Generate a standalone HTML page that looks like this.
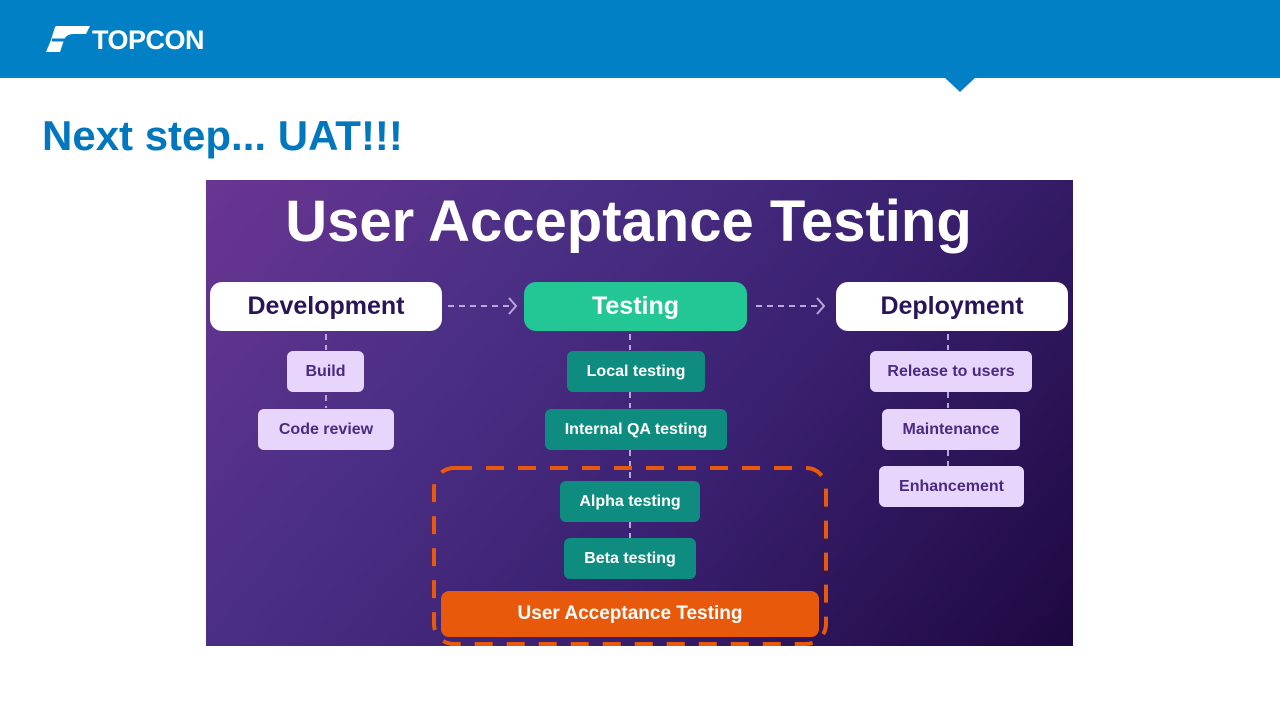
<!DOCTYPE html>
<html><head><meta charset="utf-8"><style>
body{margin:0;width:1280px;height:720px;background:#fff;position:relative;overflow:hidden;font-family:"Liberation Sans",sans-serif}
.hdr{position:absolute;left:0;top:0;width:1280px;height:78px;background:#0280C6}
.notch{position:absolute;left:945px;top:78px;width:0;height:0;border-left:15px solid transparent;border-right:15px solid transparent;border-top:14px solid #0280C6}
.logo{position:absolute;left:92px;top:25px;color:#fff;font-weight:bold;font-size:27px;letter-spacing:-0.5px}
h1{position:absolute;left:42px;top:112px;margin:0;color:#0277BD;font-size:42px;font-weight:bold}
.img{position:absolute;left:206px;top:180px;width:867px;height:466px;background:linear-gradient(130deg,#6a3592 0%,#4b2f85 30%,#3a2070 60%,#1e0840 100%);overflow:hidden}
.b{position:absolute;display:flex;align-items:center;justify-content:center;box-sizing:border-box;font-weight:bold;white-space:nowrap}
.big{height:49px;top:102px;border-radius:12px;font-size:25px;color:#2a1458}
.lp{background:#e8d5fc;color:#4a2a80;font-size:16px;border-radius:6px;height:41px}
.tl{background:#0e8c7f;color:#fff;font-size:16px;border-radius:6px;height:41px}
</style></head><body>
<div class="hdr"></div><div class="notch"></div>
<svg style="position:absolute;left:46px;top:26px" width="44" height="26"><path d="M10 0h34l-4 8H28q-8 0-10 6l-4 12H0l5-12q4-14 5-14z" fill="#fff"/><path d="M6 14h14" stroke="#0280C6" stroke-width="3"/><path d="M22 12h18" stroke="#0280C6" stroke-width="3"/></svg>
<div class="logo">TOPCON</div>
<h1>Next step... UAT!!!</h1>
<div class="img">
<div style="position:absolute;left:-11px;width:867px;top:8px;text-align:center;color:#fff;font-weight:bold;font-size:58px">User Acceptance Testing</div>
<svg style="position:absolute;left:0;top:0" width="867" height="466">
<g stroke="#b9a8d8" stroke-width="2" stroke-dasharray="6 5" fill="none">
<path d="M242 126H306M550 126H614"/>
<path d="M120 154V170M120 193V228M424 154V170M424 212V228M424 270V300M424 342V358M742 154V170M742 212V228M742 270V286"/>
</g>
<g stroke="#b9a8d8" stroke-width="2" fill="none"><path d="M303 118l7 8-7 8M611 118l7 8-7 8"/></g>
<rect x="228" y="288" width="392" height="176" rx="20" fill="none" stroke="#e8590c" stroke-width="4" stroke-dasharray="18 14"/>
</svg>
<div class="b big" style="left:4px;width:232px;background:#fff">Development</div>
<div class="b big" style="left:318px;width:223px;background:#22c795;color:#fff">Testing</div>
<div class="b big" style="left:630px;width:232px;background:#fff">Deployment</div>
<div class="b lp" style="left:81px;top:171px;width:77px">Build</div>
<div class="b lp" style="left:52px;top:229px;width:136px">Code review</div>
<div class="b tl" style="left:361px;top:171px;width:138px">Local testing</div>
<div class="b tl" style="left:339px;top:229px;width:182px">Internal QA testing</div>
<div class="b tl" style="left:354px;top:301px;width:140px">Alpha testing</div>
<div class="b tl" style="left:358px;top:358px;width:132px">Beta testing</div>
<div class="b" style="left:235px;top:411px;width:378px;height:46px;background:#e8590c;color:#fff;font-size:19px;border-radius:8px">User Acceptance Testing</div>
<div class="b lp" style="left:664px;top:171px;width:162px">Release to users</div>
<div class="b lp" style="left:676px;top:229px;width:138px">Maintenance</div>
<div class="b lp" style="left:673px;top:286px;width:145px">Enhancement</div>
</div>
</body></html>
